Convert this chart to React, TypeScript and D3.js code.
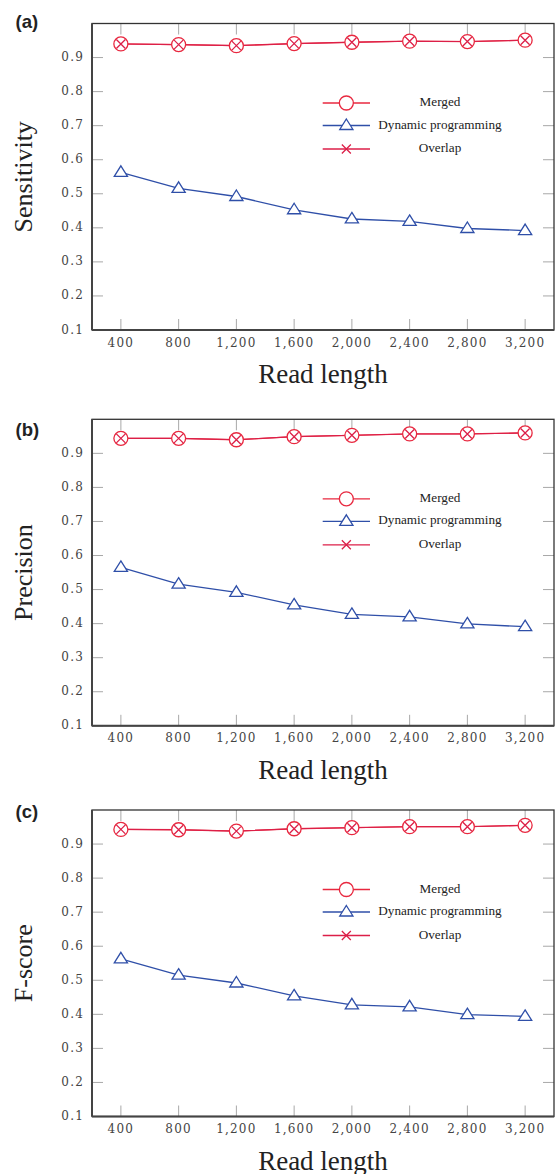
import React from "react";
import * as d3 from "d3";

const readLengths = [400, 800, 1200, 1600, 2000, 2400, 2800, 3200];
const yTicks = [0.1, 0.2, 0.3, 0.4, 0.5, 0.6, 0.7, 0.8, 0.9];

const sensMerged = [0.94, 0.938, 0.935, 0.941, 0.945, 0.948, 0.947, 0.951];
const sensDP = [0.563, 0.516, 0.492, 0.453, 0.426, 0.419, 0.398, 0.392];
const sensOverlap = [0.94, 0.938, 0.935, 0.941, 0.945, 0.948, 0.947, 0.951];

const precMerged = [0.944, 0.944, 0.94, 0.949, 0.953, 0.957, 0.957, 0.96];
const precDP = [0.565, 0.516, 0.492, 0.455, 0.427, 0.42, 0.399, 0.391];
const precOverlap = [0.944, 0.944, 0.94, 0.949, 0.953, 0.957, 0.957, 0.96];

const fMerged = [0.943, 0.942, 0.938, 0.945, 0.948, 0.951, 0.951, 0.955];
const fDP = [0.563, 0.515, 0.492, 0.454, 0.428, 0.422, 0.399, 0.394];
const fOverlap = [0.943, 0.942, 0.938, 0.945, 0.948, 0.951, 0.951, 0.955];

const panels = [
  { tag: "(a)", ylabel: "Sensitivity", merged: sensMerged, dp: sensDP, overlap: sensOverlap, top: 23.5, tagY: 23.5 },
  { tag: "(b)", ylabel: "Precision", merged: precMerged, dp: precDP, overlap: precOverlap, top: 419.3, tagY: 431 },
  { tag: "(c)", ylabel: "F-score", merged: fMerged, dp: fDP, overlap: fOverlap, top: 810, tagY: 813 },
];

const legendItems = ["Merged", "Dynamic programming", "Overlap"];

const RED = "#e8283f";
const RED2 = "#dc1f48";
const BLUE = "#2f4fa8";

const W = 555;
const H = 1174;
const LEFT = 92;
const RIGHT = 554;
const PH = 306.5;

function Circle({ x, y, color }: { x: number; y: number; color: string }) {
  return <circle cx={x} cy={y} r={7} fill="white" stroke={color} strokeWidth={1.3} />;
}
function Cross({ x, y, color }: { x: number; y: number; color: string }) {
  const s = 4.5;
  return (
    <path d={`M${x - s},${y - s}L${x + s},${y + s}M${x - s},${y + s}L${x + s},${y - s}`} stroke={color} strokeWidth={1.3} fill="none" />
  );
}
function Tri({ x, y, color }: { x: number; y: number; color: string }) {
  const h = 10.5;
  const w = 6.6;
  return (
    <path d={`M${x},${y - h * 0.62}L${x + w},${y + h * 0.38}L${x - w},${y + h * 0.38}Z`} fill="white" stroke={color} strokeWidth={1.3} />
  );
}

function Panel({ p }: { p: (typeof panels)[number] }) {
  const x = d3.scaleLinear().domain([200, 3400]).range([LEFT, RIGHT]);
  const y = d3.scaleLinear().domain([0.1, 1.0]).range([p.top + PH, p.top]);
  const bottom = p.top + PH;
  const line = d3
    .line<number>()
    .x((_, i) => x(readLengths[i]))
    .y((d) => y(d));
  const fmt = d3.format(",");
  const legX1 = 322.7;
  const legX2 = 370;
  const legCx = (legX1 + legX2) / 2;
  const legRows = [79.5, 102, 125.5].map((o) => p.top + o);
  const tickLen = 11;
  const tickColor = "#a8a8a8";
  return (
    <g>
      <text x={15.5} y={p.tagY} dominantBaseline="middle" fontFamily="Liberation Sans, Arial, sans-serif" fontWeight="bold" fontSize={18.5} fill="#222">
        {p.tag}
      </text>
      {/* ticks */}
      {readLengths.map((v) => (
        <g key={"xt" + v}>
          <line x1={x(v)} x2={x(v)} y1={p.top} y2={p.top + tickLen} stroke={tickColor} strokeWidth={1} />
          <line x1={x(v)} x2={x(v)} y1={bottom} y2={bottom - tickLen} stroke={tickColor} strokeWidth={1} />
          <text x={x(v)} y={bottom + 13} textAnchor="middle" dominantBaseline="middle" fontFamily="DejaVu Serif, serif" fontSize={12} letterSpacing={1.2} fill="#444">
            {fmt(v)}
          </text>
        </g>
      ))}
      {yTicks.map((v) => (
        <g key={"yt" + v}>
          <line x1={LEFT} x2={LEFT + tickLen} y1={y(v)} y2={y(v)} stroke={tickColor} strokeWidth={1} />
          <line x1={RIGHT} x2={RIGHT - tickLen} y1={y(v)} y2={y(v)} stroke={tickColor} strokeWidth={1} />
          <text x={84} y={y(v)} textAnchor="end" dominantBaseline="middle" fontFamily="DejaVu Serif, serif" fontSize={12} letterSpacing={1.2} fill="#444">
            {v.toFixed(1)}
          </text>
        </g>
      ))}
      {/* frame */}
      <rect x={LEFT} y={p.top} width={RIGHT - LEFT} height={PH} fill="none" stroke="#333" strokeWidth={1.3} />
      <line x1={LEFT} x2={LEFT} y1={p.top} y2={bottom} stroke="#444" strokeWidth={2} />
      <line x1={LEFT} x2={RIGHT} y1={bottom} y2={bottom} stroke="#444" strokeWidth={2} />
      {/* series */}
      <path d={line(p.dp) || ""} fill="none" stroke={BLUE} strokeWidth={1.3} />
      <path d={line(p.merged) || ""} fill="none" stroke={RED} strokeWidth={1.3} />
      <path d={line(p.overlap) || ""} fill="none" stroke={RED2} strokeWidth={1.1} />
      {p.dp.map((v, i) => (
        <Tri key={"t" + i} x={x(readLengths[i])} y={y(v)} color={BLUE} />
      ))}
      {p.merged.map((v, i) => (
        <Circle key={"c" + i} x={x(readLengths[i])} y={y(v)} color={RED} />
      ))}
      {p.overlap.map((v, i) => (
        <Cross key={"x" + i} x={x(readLengths[i])} y={y(v)} color={RED2} />
      ))}
      {/* legend */}
      {legendItems.map((name, i) => {
        const ly = legRows[i];
        const color = i === 0 ? RED : i === 1 ? BLUE : RED2;
        return (
          <g key={name}>
            <line x1={legX1} x2={legX2} y1={ly} y2={ly} stroke={color} strokeWidth={1.3} />
            {i === 0 && <Circle x={legCx} y={ly} color={color} />}
            {i === 1 && <Tri x={legCx} y={ly} color={color} />}
            {i === 2 && <Cross x={legCx} y={ly} color={color} />}
            <text x={440} y={ly} textAnchor="middle" dominantBaseline="middle" fontFamily="Liberation Serif, Times New Roman, serif" fontSize={13.2} fill="#222">
              {name}
            </text>
          </g>
        );
      })}
      {/* axis titles */}
      <text x={(LEFT + RIGHT) / 2} y={bottom + 53} textAnchor="middle" fontFamily="Liberation Serif, Times New Roman, serif" fontSize={27} fill="#222">
        Read length
      </text>
      <text
        transform={`translate(32,${(p.top + bottom) / 2}) rotate(-90)`}
        textAnchor="middle"
        fontFamily="Liberation Serif, Times New Roman, serif"
        fontSize={26}
        fill="#222"
      >
        {p.ylabel}
      </text>
    </g>
  );
}

export default function App() {
  return (
    <svg width={W} height={H} style={{ position: "absolute", left: 0, top: 0, background: "white" }}>
      <rect x={0} y={0} width={W} height={H} fill="white" />
      {panels.map((p) => (
        <Panel key={p.tag} p={p} />
      ))}
    </svg>
  );
}
